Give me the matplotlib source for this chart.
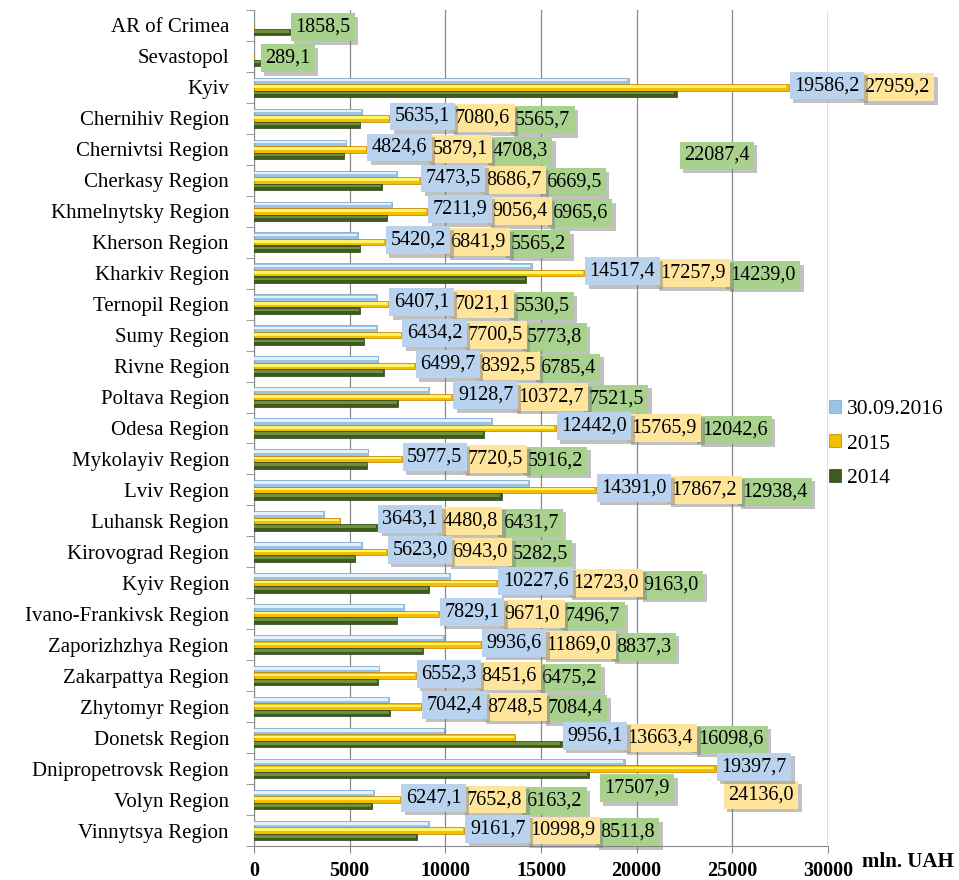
import numpy as np
import matplotlib
matplotlib.use("Agg")
import matplotlib.pyplot as plt
import matplotlib.patheffects as pe
from matplotlib.patches import Patch

# ================================
# DATA (top of chart to bottom)
# ================================
regions = ["AR of Crimea", "Sevastopol", "Kyiv", "Chernihiv Region", "Chernivtsi Region",
           "Cherkasy Region", "Khmelnytsky Region", "Kherson Region", "Kharkiv Region",
           "Ternopil Region", "Sumy Region", "Rivne Region", "Poltava Region", "Odesa Region",
           "Mykolayiv Region", "Lviv Region", "Luhansk Region", "Kirovograd Region",
           "Kyiv Region", "Ivano-Frankivsk Region", "Zaporizhzhya Region", "Zakarpattya Region",
           "Zhytomyr Region", "Donetsk Region", "Dnipropetrovsk Region", "Volyn Region",
           "Vinnytsya Region"]

val_2016 = [np.nan, np.nan, 19586.2, 5635.1, 4824.6, 7473.5, 7211.9, 5420.2, 14517.4,
            6407.1, 6434.2, 6499.7, 9128.7, 12442.0, 5977.5, 14391.0, 3643.1, 5623.0,
            10227.6, 7829.1, 9936.6, 6552.3, 7042.4, 9956.1, 19397.7, 6247.1, 9161.7]
val_2015 = [np.nan, np.nan, 27959.2, 7080.6, 5879.1, 8686.7, 9056.4, 6841.9, 17257.9,
            7021.1, 7700.5, 8392.5, 10372.7, 15765.9, 7720.5, 17867.2, 4480.8, 6943.0,
            12723.0, 9671.0, 11869.0, 8451.6, 8748.5, 13663.4, 24136.0, 7652.8, 10998.9]
val_2014 = [1858.5, 289.1, 22087.4, 5565.7, 4708.3, 6669.5, 6965.6, 5565.2, 14239.0,
            5530.5, 5773.8, 6785.4, 7521.5, 12042.6, 5916.2, 12938.4, 6431.7, 5282.5,
            9163.0, 7496.7, 8837.3, 6475.2, 7084.4, 16098.6, 17507.9, 6163.2, 8511.8]

series_names = ["30.09.2016", "2015", "2014"]

# ================================
# STYLE
# ================================
plt.rcParams["font.family"] = ["Liberation Serif", "DejaVu Serif"]

bar_base = ["#9cc3e4", "#f2c000", "#3d5a1f"]
bar_light = ["#e2f1fb", "#fff36a", "#6f8f3c"]
bar_edge = ["#7aa3c8", "#c07a00", "#2c4214"]
box_colors = ["#b9d3ee", "#ffe49c", "#a9d18e"]

bar_h = 0.21
offsets = [bar_h, 0.0, -bar_h]
label_dy = [0.06, 0.0, -0.06]
label_fs = 14.5

# manual label spots: series index -> (pixel shift from own bar end, shift in rows)
manual = {
    "Kyiv": {2: (3, -2.2)},
    "Dnipropetrovsk Region": {1: (8, -0.84), 2: (11, -0.63)},
}

fig = plt.figure(figsize=(9.59, 8.8), dpi=100)
ax = fig.add_axes([254 / 959, 34 / 880, (828 - 254) / 959, (870 - 34) / 880])

n = len(regions)
ypos = np.arange(n)[::-1]
data = [np.array(val_2016), np.array(val_2015), np.array(val_2014)]

for k in range(3):
    vals = np.nan_to_num(data[k])
    ax.barh(ypos + offsets[k], vals, height=bar_h, color=bar_base[k],
            edgecolor=bar_edge[k], linewidth=0.5, zorder=3)
    # lighter strip on the upper half for a bevelled look
    ax.barh(ypos + offsets[k] + bar_h * 0.12, vals * 0.995, height=bar_h * 0.4,
            color=bar_light[k], linewidth=0, zorder=3.5)

ax.set_xlim(0, 30000)
ax.set_ylim(-0.5, n - 0.5)
ax.set_xticks(np.arange(0, 30001, 5000))
ax.set_xticklabels([str(v) for v in range(0, 30001, 5000)], fontweight="bold", fontsize=14.5)
ax.set_yticks(ypos)
ax.set_yticklabels(regions, fontsize=15)
ax.set_yticks(np.arange(-0.5, n, 1.0), minor=True)
ax.tick_params(axis="y", which="major", length=0, pad=18)
ax.tick_params(axis="y", which="minor", length=6, color="#888888")
ax.tick_params(axis="x", length=5, color="#888888", pad=6)
ax.grid(axis="x", color="#8a8a8a", linewidth=0.9, zorder=0)
ax.set_axisbelow(True)
for side in ("top", "right"):
    ax.spines[side].set_visible(False)
for side in ("left", "bottom"):
    ax.spines[side].set_color("#8a8a8a")
ax.axvline(30000, color="#8a8a8a", linewidth=0.9, zorder=0)

fig.text(0.899, 0.021, "mln. UAH", fontweight="bold", fontsize=15, ha="left", va="center")

# ================================
# VALUE LABELS
# ================================
fig.canvas.draw()
renderer = fig.canvas.get_renderer()
inv = ax.transData.inverted()
pad = 0.22
pad_px = pad * label_fs * 100 / 72


def px_to_x(px):
    return inv.transform((px, 0))[0]


def x_to_px(x):
    return ax.transData.transform((x, 0))[0]


def put_label(x_px, y, text, k):
    t = ax.text(px_to_x(x_px + pad_px), y, text, fontsize=label_fs, ha="left", va="center",
                zorder=8 - k, clip_on=False,
                bbox=dict(boxstyle="square,pad=%.2f" % pad, fc=box_colors[k], ec="none"))
    t.get_bbox_patch().set_path_effects(
        [pe.SimplePatchShadow(offset=(2.5, -2.5), shadow_rgbFace="#777777", alpha=0.45),
         pe.Normal()])
    # right edge of the box in pixels
    return t.get_window_extent(renderer).x1 + pad_px


for i, name in enumerate(regions):
    row = [d[i] for d in data]
    ends = [v for v in row if not np.isnan(v)]
    cur = x_to_px(max(ends)) + 1
    spots = manual.get(name, {})
    for k in range(3):
        v = row[k]
        if np.isnan(v):
            continue
        txt = ("%.1f" % v).replace(".", ",")
        if k in spots:
            dx, dy = spots[k]
            put_label(x_to_px(v) + dx, ypos[i] + dy, txt, k)
        else:
            right = put_label(cur, ypos[i] + label_dy[k], txt, k)
            cur = right - 4

# ================================
# LEGEND
# ================================
handles = [Patch(facecolor=bar_base[k], edgecolor=bar_edge[k], linewidth=0.5) for k in range(3)]
fig.legend(handles, series_names, loc="center left", bbox_to_anchor=(829 / 959, 1 - 444 / 880),
           frameon=False, fontsize=15.5, handlelength=0.55, handleheight=0.55,
           handletextpad=0.3, labelspacing=0.7, borderaxespad=0, borderpad=0)

fig.savefig("out.png", dpi=100)
